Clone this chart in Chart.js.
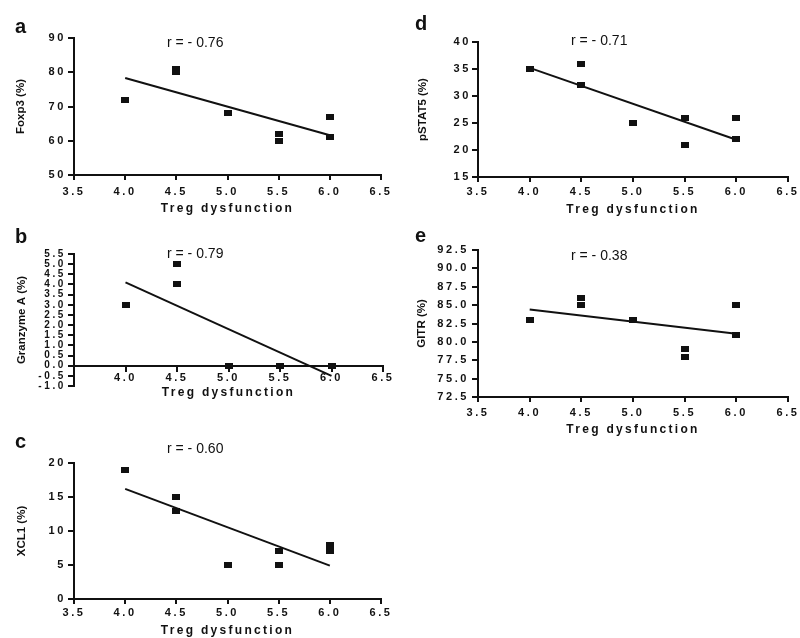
<!DOCTYPE html>
<html>
<head>
<meta charset="utf-8">
<script src="https://cdn.jsdelivr.net/npm/chart.js@4.4.1/dist/chart.umd.min.js"></script>
<style>
  html, body { margin: 0; padding: 0; background: #fff; }
  #wrap { position: relative; width: 800px; height: 638px; overflow: hidden; background: #fff; }
  canvas { position: absolute; }
  .letter { position: absolute; font-family: 'Liberation Sans', Arial, sans-serif; font-weight: bold; font-size: 20px; line-height: 20px; color: #111; }
  .rlab { position: absolute; font-family: 'Liberation Sans', Arial, sans-serif; font-size: 14px; line-height: 14px; color: #111; white-space: nowrap; }
</style>
</head>
<body>
<div id="wrap">
  <canvas id="cA" width="400" height="216" style="left:0px;top:0px"></canvas>
  <canvas id="cB" width="400" height="190" style="left:0px;top:216px"></canvas>
  <canvas id="cC" width="400" height="232" style="left:0px;top:406px"></canvas>
  <canvas id="cD" width="400" height="217" style="left:400px;top:0px"></canvas>
  <canvas id="cE" width="400" height="220" style="left:400px;top:217px"></canvas>

  <div class="letter" style="left:15px;top:16px">a</div>
  <div class="letter" style="left:15px;top:226px">b</div>
  <div class="letter" style="left:15px;top:431px">c</div>
  <div class="letter" style="left:415px;top:13px">d</div>
  <div class="letter" style="left:415px;top:225px">e</div>

  <div class="rlab" style="left:167px;top:35px">r = - 0.76</div>
  <div class="rlab" style="left:167px;top:246px">r = - 0.79</div>
  <div class="rlab" style="left:167px;top:441px">r = - 0.60</div>
  <div class="rlab" style="left:571px;top:33px">r = - 0.71</div>
  <div class="rlab" style="left:571px;top:248px">r = - 0.38</div>
</div>
<script>
// ---------------- DATA ----------------
const xAxisTitle = 'Treg dysfunction';
const xMin = 3.5, xMax = 6.5, xStep = 0.5;

// Panel a: Foxp3
const tregA = [4.0, 4.5, 4.5, 5.0, 5.5, 5.5, 6.0, 6.0];
const foxp3 = [72, 80, 81, 68, 62, 60, 67, 61];
// Panel b: Granzyme A
const tregB = [4.0, 4.5, 4.5, 5.0, 5.5, 6.0];
const granzymeA = [3, 5, 4, 0, 0, 0];
// Panel c: XCL1
const tregC = [4.0, 4.5, 4.5, 5.0, 5.5, 5.5, 6.0, 6.0];
const xcl1 = [19, 15, 13, 5, 7, 5, 8, 7];
// Panel d: pSTAT5
const tregD = [4.0, 4.5, 4.5, 5.0, 5.5, 5.5, 6.0, 6.0];
const pstat5 = [35, 36, 32, 25, 26, 21, 26, 22];
// Panel e: GITR
const tregE = [4.0, 4.5, 4.5, 5.0, 5.5, 5.5, 6.0, 6.0];
const gitr = [83, 86, 85, 83, 79, 78, 85, 81];

// Regression line end points
const fitX = [4.0, 6.0];
const fitFoxp3 = [78.3, 61.6];
const fitGranzymeA = [4.1, -0.5];
const fitXcl1 = [16.2, 4.9];
const fitPstat5 = [35.2, 21.9];
const fitGitr = [84.4, 81.1];

// Y axis titles and ranges
const yTitles = ['Foxp3 (%)', 'Granzyme A (%)', 'XCL1 (%)', 'pSTAT5 (%)', 'GITR (%)'];
const yMins = [50, -1, 0, 15, 72.5];
const yMaxs = [90, 5.5, 20, 40, 92.5];
const ySteps = [10, 0.5, 5, 5, 2.5];
const yDecimals = [0, 1, 0, 0, 1];

// ---------------- RENDERING ----------------
const INK = '#111';
const FONT = "'Liberation Sans', Arial, sans-serif";

function markerImage() {
  const c = document.createElement('canvas');
  c.width = 8; c.height = 6;
  const g = c.getContext('2d');
  g.fillStyle = INK;
  g.fillRect(0, 0, 8, 6);
  return c;
}
const MARK = markerImage();

const spacingPlugin = {
  id: 'spacing',
  beforeDraw(chart) {
    Object.values(chart.scales).forEach(s => {
      if (s._lsWrapped) return;
      s._lsWrapped = true;
      const dl = s.drawLabels, dt = s.drawTitle;
      const labelLS = '2.6px';
      const titleLS = s.axis === 'x' ? '2.3px' : '0px';
      s.drawLabels = function (...args) {
        const c = this.ctx; c.letterSpacing = labelLS; dl.apply(this, args); c.letterSpacing = '0px';
      };
      s.drawTitle = function (...args) {
        const c = this.ctx; c.letterSpacing = titleLS; dt.apply(this, args); c.letterSpacing = '0px';
      };
    });
  }
};

function toPoints(xs, ys) { return xs.map((x, i) => ({ x: x, y: ys[i] })); }

function makePanel(p) {
  const i = p.idx;
  const gridCfg = { display: true, drawOnChartArea: false, drawTicks: true, tickLength: 6, color: INK, lineWidth: 2 };
  const borderCfg = { display: true, color: INK, width: 2 };
  new Chart(document.getElementById(p.id), {
    type: 'scatter',
    data: {
      datasets: [
        {
          data: toPoints(p.xs, p.ys),
          pointStyle: MARK,
          pointRadius: 4,
          backgroundColor: INK,
          borderColor: INK,
          showLine: false
        },
        {
          data: toPoints(fitX, p.fit),
          showLine: true,
          borderColor: INK,
          borderWidth: 2,
          pointRadius: 0,
          fill: false
        }
      ]
    },
    options: {
      responsive: false,
      animation: false,
      events: [],
      layout: { padding: { left: 0, top: p.padTop, right: p.padRight, bottom: p.padBottom } },
      plugins: { legend: { display: false }, tooltip: { enabled: false } },
      scales: {
        x: {
          type: 'linear',
          min: xMin, max: xMax,
          position: p.xAtZero ? { y: 0 } : 'bottom',
          grid: Object.assign({}, gridCfg, { tickLength: 5 }),
          border: borderCfg,
          ticks: {
            stepSize: xStep, autoSkip: false, maxRotation: 0, padding: p.xTickPad, color: INK,
            font: { family: FONT, size: 11, weight: 'bold' },
            callback: (v) => (p.hideFirstX && v === xMin) ? '' : Number(v).toFixed(1)
          },
          title: {
            display: true, text: xAxisTitle, color: INK,
            font: { family: FONT, size: 12, weight: 'bold' },
            padding: { top: 0, bottom: 0 }
          },
          afterFit: (s) => { s.height = p.xHeight; }
        },
        y: {
          type: 'linear',
          min: yMins[i], max: yMaxs[i],
          grid: gridCfg,
          border: borderCfg,
          ticks: {
            stepSize: ySteps[i], autoSkip: false, padding: p.yTickPad, color: INK,
            font: { family: FONT, size: p.yTickSize || 11, weight: 'bold' },
            callback: (v) => Number(v).toFixed(yDecimals[i])
          },
          title: {
            display: true, text: yTitles[i], color: INK,
            font: { family: FONT, size: 11.5, weight: 'bold' },
            padding: { top: p.yTitlePad, bottom: 0 }
          },
          afterFit: (s) => { s.width = p.yWidth; }
        }
      }
    },
    plugins: [spacingPlugin]
  });
}

makePanel({ id: 'cA', idx: 0, xs: tregA, ys: foxp3, fit: fitFoxp3,
  padTop: 38, padRight: 19, padBottom: 0, yWidth: 74, xHeight: 41, xTickPad: 5, yTickPad: 2, yTitlePad: 14 });
makePanel({ id: 'cB', idx: 1, xs: tregB, ys: granzymeA, fit: fitGranzymeA, xAtZero: true, hideFirstX: true,
  padTop: 38, padRight: 17, padBottom: 20, yWidth: 74, xHeight: 34, xTickPad: 1, yTickPad: 2, yTitlePad: 14.5, yTickSize: 10 });
makePanel({ id: 'cC', idx: 2, xs: tregC, ys: xcl1, fit: fitXcl1,
  padTop: 57, padRight: 19, padBottom: 0, yWidth: 74, xHeight: 39, xTickPad: 2, yTickPad: 2, yTitlePad: 14.5 });
makePanel({ id: 'cD', idx: 3, xs: tregD, ys: pstat5, fit: fitPstat5,
  padTop: 42, padRight: 12, padBottom: 0, yWidth: 78, xHeight: 40, xTickPad: 3, yTickPad: 1, yTitlePad: 16 });
makePanel({ id: 'cE', idx: 4, xs: tregE, ys: gitr, fit: fitGitr,
  padTop: 33, padRight: 12, padBottom: 0, yWidth: 78, xHeight: 40, xTickPad: 4, yTickPad: 3, yTitlePad: 15 });
</script>
</body>
</html>
